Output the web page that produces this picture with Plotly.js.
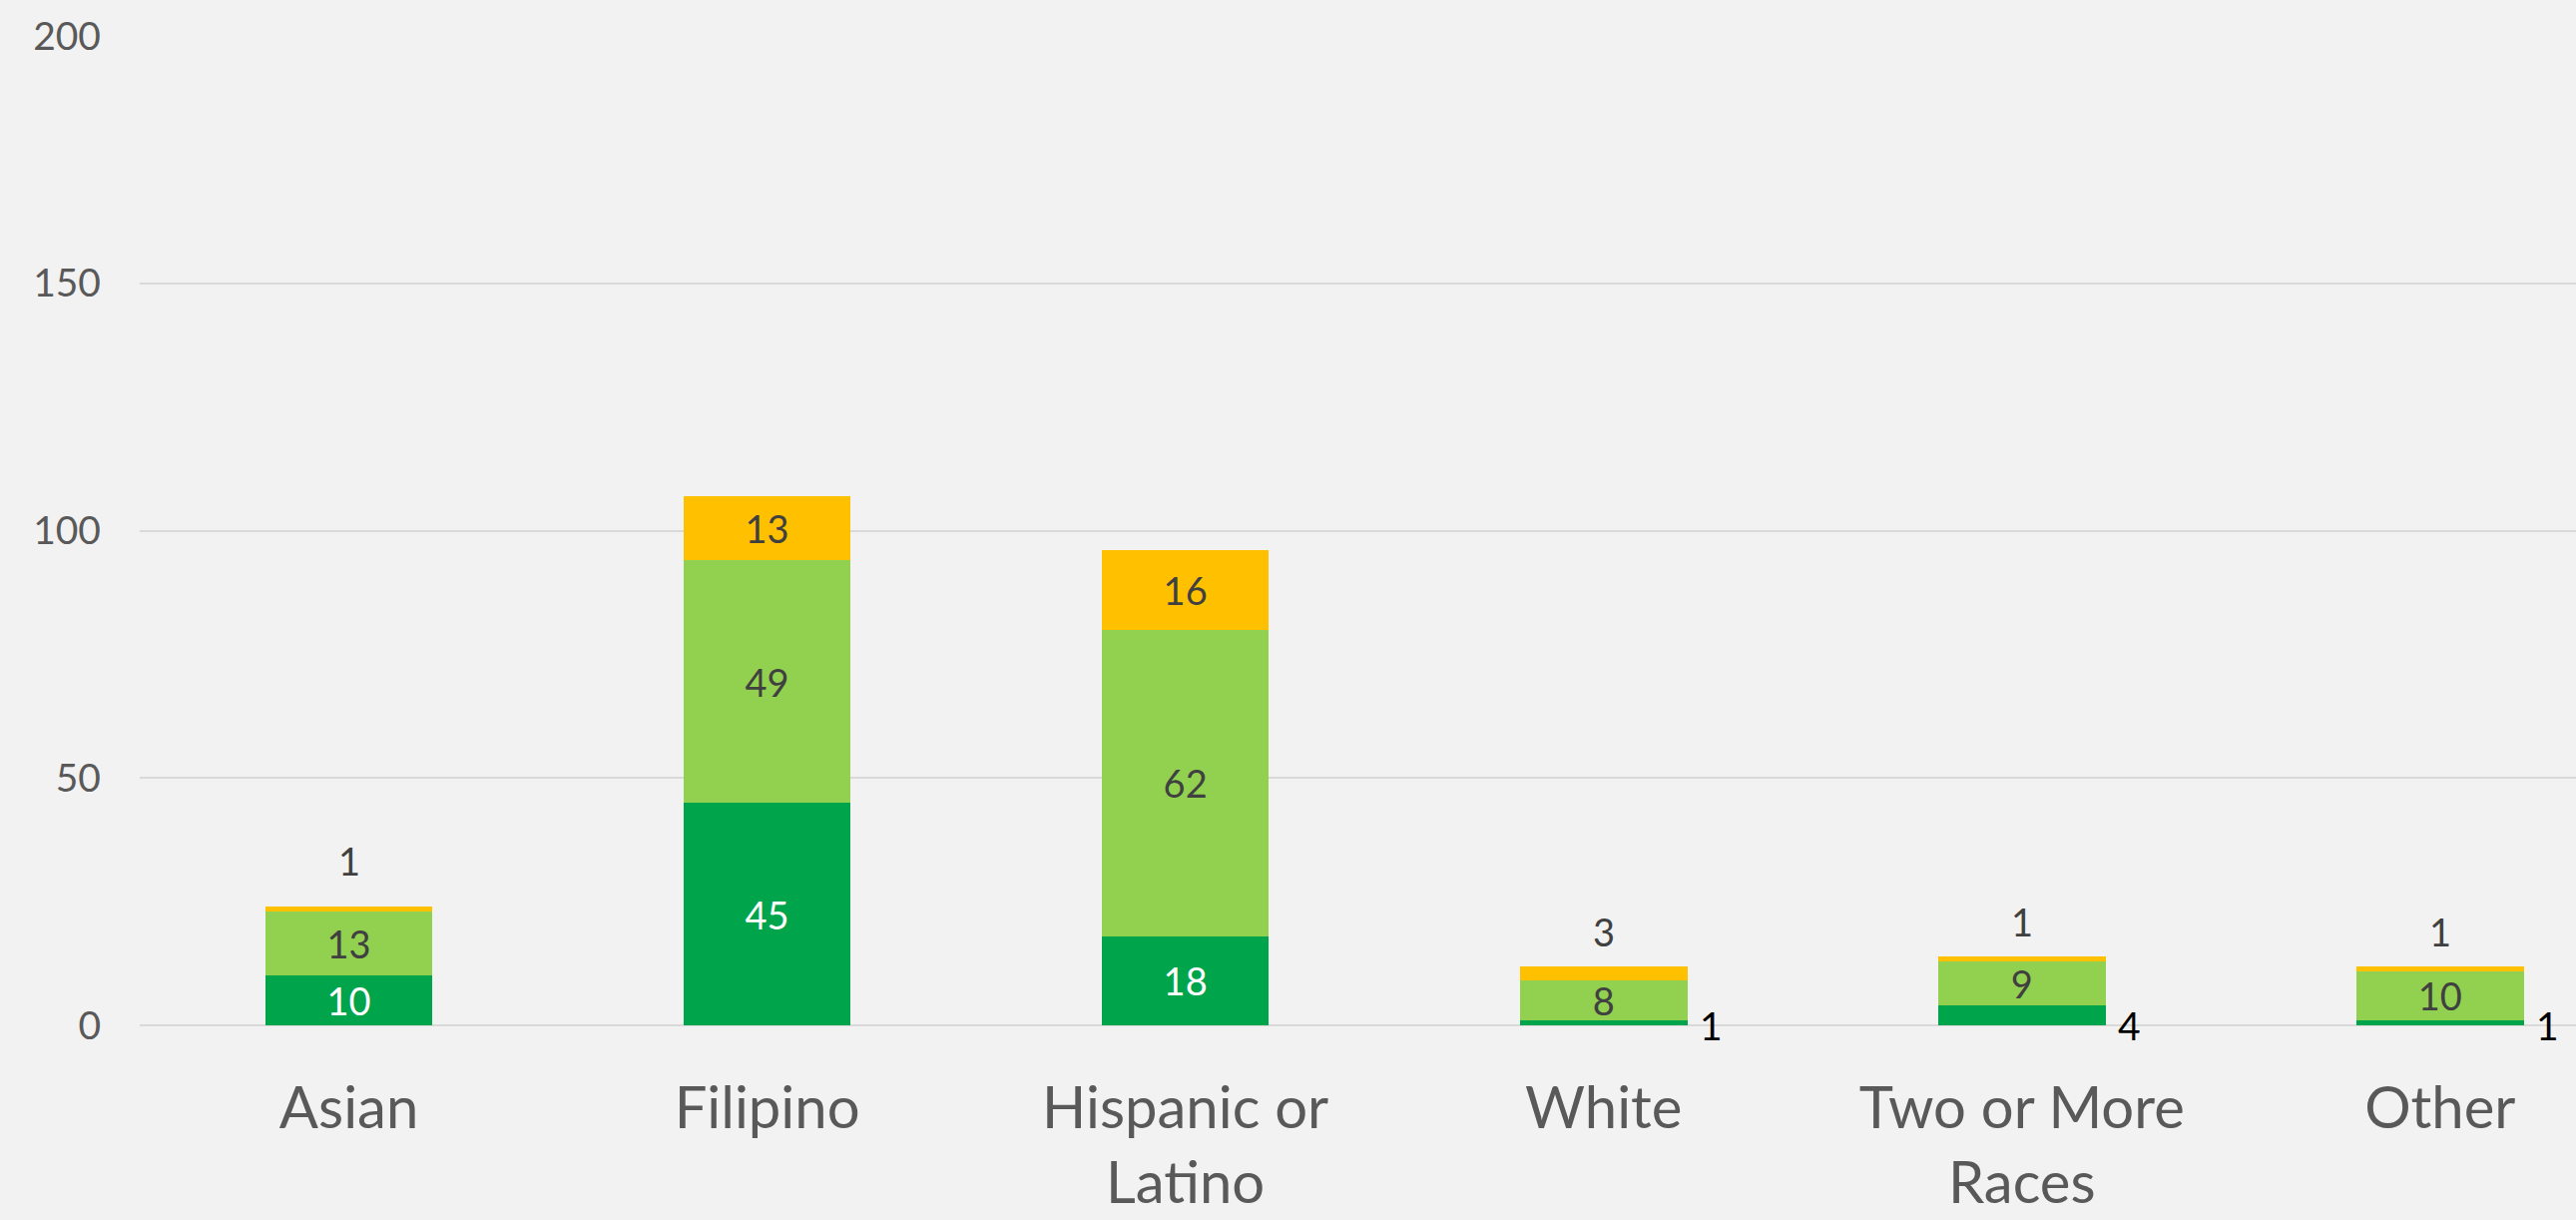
<!DOCTYPE html>
<html>
<head>
<meta charset="utf-8">
<script src="https://cdn.plot.ly/plotly-3.0.1.min.js"></script>
<style>
  html, body { margin: 0; padding: 0; background: #F2F2F2; }
  #chart { width: 2581px; height: 1222px; }
</style>
</head>
<body>
<div id="chart"></div>
<script>
// ---- data ----
const categories = ["Asian", "Filipino", "Hispanic or Latino", "White", "Two or More Races", "Other"];
const tickLabels = ["Asian", "Filipino", "Hispanic or<br>Latino", "White", "Two or More<br>Races", "Other"];
const darkGreen  = [10, 45, 18, 1, 4, 1];
const lightGreen = [13, 49, 62, 8, 9, 10];
const yellow     = [1, 13, 16, 3, 1, 1];
const yTicks     = [0, 50, 100, 150, 200];

// ---- styling ----
const FONT = "Lato, 'Open Sans', sans-serif";
const COLORS = { dark: "#00A44B", light: "#92D050", yellow: "#FFC000" };
const INSIDE_MIN = 5;
const BAR_WIDTH = 0.4;

function insideText(vals) { return vals.map(v => v >= INSIDE_MIN ? String(v) : ""); }

function barTrace(name, vals, color, textColor) {
  return {
    type: "bar",
    name: name,
    x: categories,
    y: vals,
    width: BAR_WIDTH,
    marker: { color: color, line: { width: 0 } },
    text: insideText(vals),
    textposition: "inside",
    insidetextanchor: "middle",
    textangle: 0,
    constraintext: "none",
    cliponaxis: false,
    textfont: { family: FONT, size: 38, color: textColor },
    hoverinfo: "skip"
  };
}

const traces = [
  barTrace("Dark", darkGreen, COLORS.dark, "#FFFFFF"),
  barTrace("Light", lightGreen, COLORS.light, "#404040"),
  barTrace("Yellow", yellow, COLORS.yellow, "#404040")
];

// Outside labels for small segments
const annotations = [];
categories.forEach((c, i) => {
  if (yellow[i] < INSIDE_MIN) {
    annotations.push({
      x: c, y: darkGreen[i] + lightGreen[i] + yellow[i],
      xref: "x", yref: "y",
      text: String(yellow[i]), showarrow: false,
      xanchor: "center", yanchor: "middle", yshift: i === 0 ? 46 : 35,
      font: { family: FONT, size: 38, color: "#404040" }
    });
  }
  if (darkGreen[i] < INSIDE_MIN) {
    annotations.push({
      x: c, y: 0,
      xref: "x", yref: "y",
      text: String(darkGreen[i]), showarrow: false,
      xanchor: "center", yanchor: "middle", xshift: 108, yshift: 0,
      font: { family: FONT, size: 39, color: "#000000" }
    });
  }
});

const layout = {
  width: 2581,
  height: 1222,
  margin: { l: 140, r: 0, t: 36, b: 195, pad: 0 },
  paper_bgcolor: "#F2F2F2",
  plot_bgcolor: "#F2F2F2",
  barmode: "stack",
  showlegend: false,
  xaxis: {
    type: "category",
    range: [-0.5, 5.325],
    tickmode: "array",
    tickvals: categories,
    ticktext: tickLabels,
    showgrid: false,
    zeroline: false,
    showline: false,
    ticks: "",
    ticklabelstandoff: 44,
    tickfont: { family: FONT, size: 58, color: "#595959" },
    fixedrange: true
  },
  yaxis: {
    range: [0, 200],
    tickmode: "array",
    tickvals: yTicks,
    ticktext: yTicks.map(String),
    showgrid: true,
    gridcolor: "#D9D9D9",
    gridwidth: 2,
    zeroline: true,
    zerolinecolor: "#D9D9D9",
    zerolinewidth: 2,
    showline: false,
    ticks: "",
    ticklabelstandoff: 38,
    tickfont: { family: FONT, size: 39, color: "#595959" },
    fixedrange: true
  },
  annotations: annotations
};

Plotly.newPlot("chart", traces, layout, { displayModeBar: false, staticPlot: true });
</script>
</body>
</html>
